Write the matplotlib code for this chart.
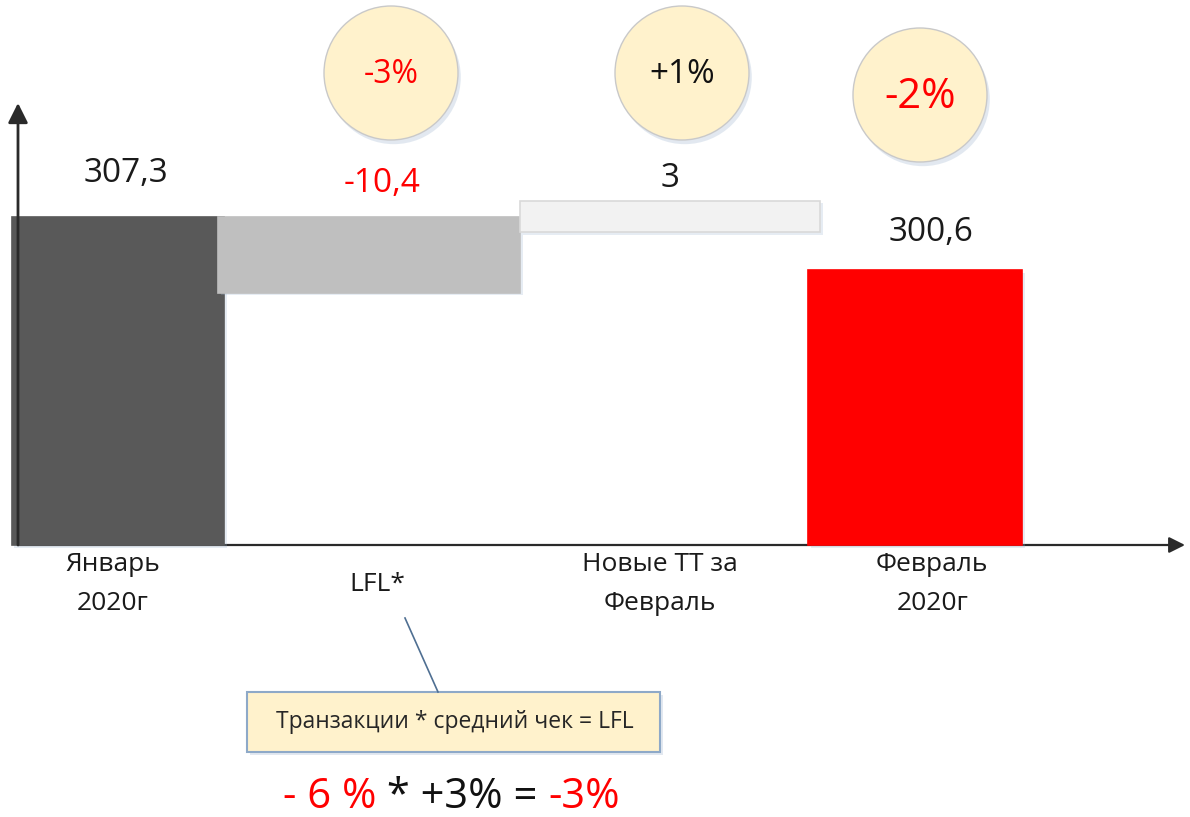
import matplotlib
matplotlib.use("Agg")
import matplotlib.pyplot as plt
from matplotlib.patches import Circle, Rectangle
from matplotlib.lines import Line2D
from matplotlib.transforms import ScaledTranslation
import matplotlib.patheffects as pe

plt.rcParams["font.family"] = ["Open Sans", "DejaVu Sans"]

# data
categories = ["Январь\n2020г", "LFL*", "Новые ТТ за\nФевраль", "Февраль\n2020г"]
values = [307.3, -10.4, 3, 300.6]
value_labels = ["307,3", "-10,4", "3", "300,6"]
# the infographic is not drawn to scale: bar extents as they appear
bar_bottoms = [266.0, 297.8, 305.4, 266.0]
bar_tops = [307.3, 307.3, 309.4, 300.6]
shares = ["-3%", "+1%", "-2%"]
formula_parts = ["- 6 %", " * +3% = ", "-3%"]
note = "Транзакции * средний чек = LFL"

# layout / style
x_pos = [0.0, 0.945, 2.078, 3.0]
widths = [0.80, 1.137, 1.129, 0.805]
bar_colors = ["#595959", "#bfbfbf", "#f2f2f2", "#ff0000"]
bar_edges = ["#595959", "#bfbfbf", "#d9d9d9", "#ff0000"]
label_shift = [-0.02, 0.03, -0.04, 0.065]
value_shift = [0.03, 0.05, 0.0, 0.06]
value_lift = [0.44, 0.34, 0.22, 0.38]  # inches above the bar top
value_colors = ["#1a1a1a", "#ff0000", "#1a1a1a", "#1a1a1a"]
cream = "#fff2cc"

fig = plt.figure(figsize=(11.9, 8.17), dpi=100)
ax = fig.add_axes([18 / 1190, (817 - 545) / 817, (1185 - 18) / 1190, (545 - 103) / 817])
ax.set_xlim(-0.376, 4.016)
ax.set_ylim(266, 321.7)
ax.axis("off")

shadow = [pe.SimplePatchShadow(offset=(2, -2), shadow_rgbFace="#9fb6d0", alpha=0.25), pe.Normal()]
for i in range(len(categories)):
    ax.bar(x_pos[i], bar_tops[i] - bar_bottoms[i], bottom=bar_bottoms[i], width=widths[i],
           color=bar_colors[i], edgecolor=bar_edges[i], linewidth=1.2, zorder=2,
           clip_on=False, path_effects=shadow)
    ax.text(x_pos[i] + value_shift[i], bar_tops[i], value_labels[i], ha="center", va="center",
            fontsize=24, color=value_colors[i], zorder=5,
            transform=ax.transData + ScaledTranslation(0, value_lift[i], fig.dpi_scale_trans))
    ax.text(x_pos[i] + label_shift[i], 266, categories[i], ha="center", va="center",
            fontsize=19, color="#1a1a1a", linespacing=1.7,
            transform=ax.transData + ScaledTranslation(0, -0.39, fig.dpi_scale_trans))

# axes with arrows
ax.annotate("", xy=(0, 1), xytext=(0, 0), xycoords="axes fraction",
            arrowprops=dict(arrowstyle="-|>", color="#2a2a2a", lw=2, mutation_scale=30,
                            shrinkA=0, shrinkB=0), zorder=4)
ax.annotate("", xy=(1, 0), xytext=(0, 0), xycoords="axes fraction",
            arrowprops=dict(arrowstyle="-|>", color="#2a2a2a", lw=1.6, mutation_scale=24,
                            shrinkA=0, shrinkB=0), zorder=1)

# share circles (inches in figure)
circles = [(3.91, 7.44), (6.82, 7.44), (9.20, 7.22)]
share_colors = ["#ff0000", "#111111", "#ff0000"]
share_sizes = [23, 24, 30]
for (cx, cy), s, c, fs in zip(circles, shares, share_colors, share_sizes):
    circ = Circle((cx, cy), 0.67, transform=fig.dpi_scale_trans, facecolor=cream,
                  edgecolor="#c9c9c9", linewidth=1,
                  path_effects=[pe.SimplePatchShadow(offset=(2, -3), shadow_rgbFace="#9fb6d0", alpha=0.3),
                                pe.Normal()])
    fig.add_artist(circ)
    fig.text(cx, cy - 0.02, s, transform=fig.dpi_scale_trans, ha="center", va="center",
             fontsize=fs, color=c)

# callout
fig.add_artist(Line2D([4.05, 4.38], [1.99, 1.25], transform=fig.dpi_scale_trans,
                      color="#4f6f92", lw=1.2))
box = Rectangle((2.47, 0.65), 4.13, 0.60, transform=fig.dpi_scale_trans, facecolor=cream,
                edgecolor="#8ea9c8", linewidth=1.5,
                path_effects=[pe.SimplePatchShadow(offset=(2, -2), shadow_rgbFace="#9fb6d0", alpha=0.3),
                              pe.Normal()])
fig.add_artist(box)
fig.text(4.545, 0.95, note, transform=fig.dpi_scale_trans, ha="center", va="center",
         fontsize=16.5, color="#262626")

# formula with mixed colours
fig.canvas.draw()
renderer = fig.canvas.get_renderer()
x0 = 2.83
part_colors = ["#ff0000", "#111111", "#ff0000"]
for part, c in zip(formula_parts, part_colors):
    t = fig.text(x0, 0.20, part, transform=fig.dpi_scale_trans, ha="left", va="center",
                 fontsize=30, color=c)
    bb = t.get_window_extent(renderer=renderer)
    x0 += bb.width / fig.dpi

fig.savefig("out.png", dpi=100)
